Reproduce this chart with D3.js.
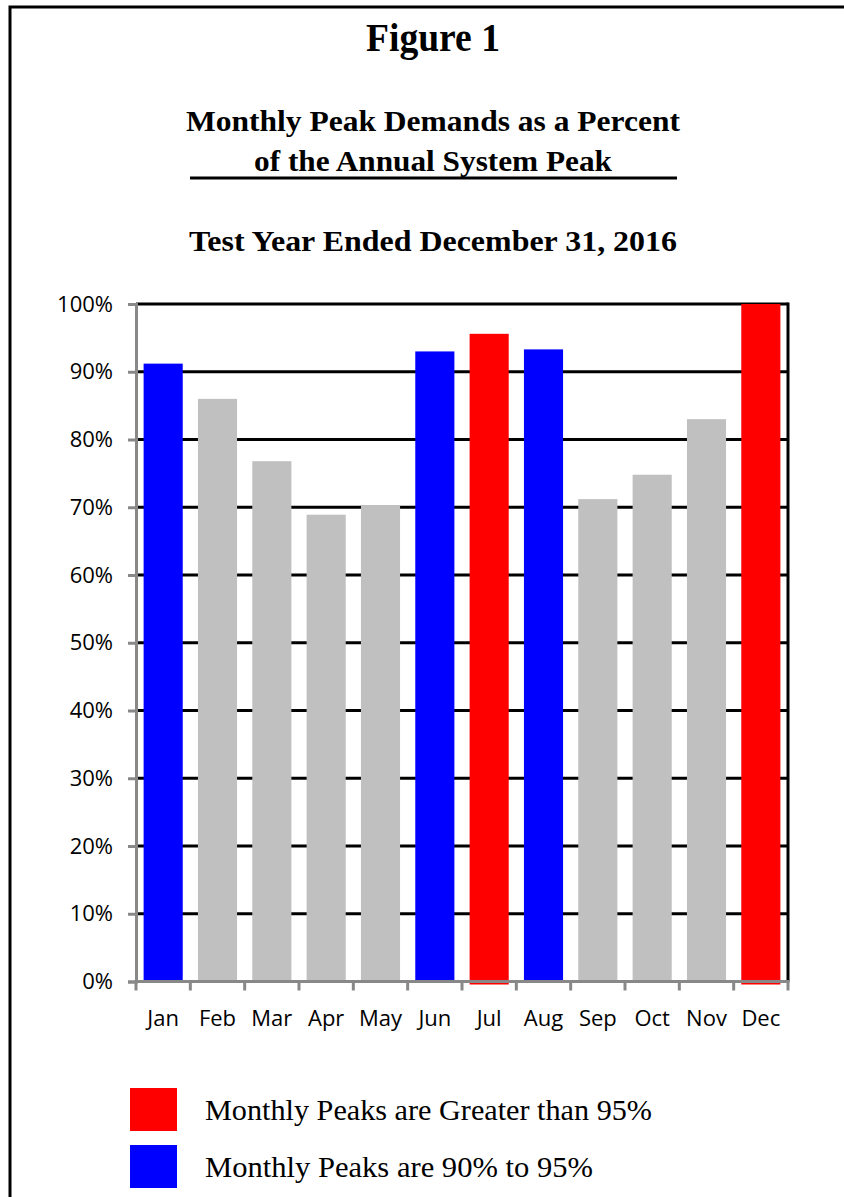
<!DOCTYPE html>
<html>
<head>
<meta charset="utf-8">
<script src="https://cdn.jsdelivr.net/npm/d3@7"></script>
<style>
  html, body { margin: 0; padding: 0; background: #fff; }
  svg { display: block; }
</style>
</head>
<body>
<svg id="chart" width="844" height="1197"></svg>
<script>
// ---- data ----
const months = ["Jan","Feb","Mar","Apr","May","Jun","Jul","Aug","Sep","Oct","Nov","Dec"];
const peakPercent = [91.2, 86.0, 76.8, 68.9, 70.3, 93.0, 95.6, 93.3, 71.2, 74.8, 83.0, 100.0];
const barGroup = ["mid","low","low","low","low","mid","high","mid","low","low","low","high"];
const yTicks = [0,10,20,30,40,50,60,70,80,90,100];
const titleLines = ["Figure 1", "Monthly Peak Demands as a Percent", "of the Annual System Peak", "Test Year Ended December 31, 2016"];
const legendItems = [
  {key: "high", label: "Monthly Peaks are Greater than 95%"},
  {key: "mid",  label: "Monthly Peaks are 90% to 95%"}
];
const groupColors = {high: "#ff0000", mid: "#0000ff", low: "#c0c0c0"};

const svg = d3.select("#chart");
const serif = "'Liberation Serif', 'Times New Roman', serif";
const sans = "'Open Sans', 'Liberation Sans', sans-serif";

// outer frame
svg.append("path")
  .attr("d", "M10,1197 L10,7 L844,7")
  .attr("fill", "none").attr("stroke", "#000").attr("stroke-width", 3);

// titles
const titleSpecs = [
  {y: 51, size: 40, len: 134},
  {y: 131, size: 30, len: 494},
  {y: 171, size: 30, len: 358},
  {y: 251, size: 30, len: 488}
];
titleLines.forEach((t, i) => {
  svg.append("text")
    .attr("x", 433).attr("y", titleSpecs[i].y)
    .attr("text-anchor", "middle")
    .attr("font-family", serif).attr("font-weight", "bold")
    .attr("font-size", titleSpecs[i].size)
    .attr("textLength", titleSpecs[i].len)
    .attr("lengthAdjust", "spacingAndGlyphs")
    .text(t);
});
svg.append("line")
  .attr("x1", 190).attr("x2", 677).attr("y1", 178).attr("y2", 178)
  .attr("stroke", "#000").attr("stroke-width", 3);

// plot area
const plot = {left: 136, right: 788, top: 304, bottom: 981.5};
const x = d3.scaleBand().domain(months).range([plot.left, plot.right])
  .paddingInner(0.28).paddingOuter(0.14);
const y = d3.scaleLinear().domain([0, 100]).range([plot.bottom, plot.top]);

// gridlines
svg.append("g").selectAll("line")
  .data(yTicks.filter(d => d > 0))
  .join("line")
  .attr("x1", plot.left).attr("x2", plot.right)
  .attr("y1", d => y(d)).attr("y2", d => y(d))
  .attr("stroke", "#000").attr("stroke-width", 3);

// right border of plot
svg.append("line")
  .attr("x1", plot.right).attr("x2", plot.right)
  .attr("y1", plot.top - 1.5).attr("y2", plot.bottom)
  .attr("stroke", "#000").attr("stroke-width", 3);

// bars
svg.append("g").selectAll("rect")
  .data(months)
  .join("rect")
  .attr("x", d => x(d))
  .attr("width", x.bandwidth())
  .attr("y", (d, i) => y(peakPercent[i]))
  .attr("height", (d, i) => y(0) - y(peakPercent[i]) + (barGroup[i] === "high" ? 3 : 0))
  .attr("fill", (d, i) => groupColors[barGroup[i]]);

// y axis
const yAxis = d3.axisLeft(y).tickValues(yTicks).tickFormat(d => d + "%").tickSize(8).tickPadding(15);
const gy = svg.append("g").attr("transform", `translate(${plot.left},0)`).call(yAxis);
gy.select(".domain").attr("stroke", "#888").attr("stroke-width", 3);
gy.selectAll(".tick line").attr("stroke", "#888").attr("stroke-width", 3);
gy.selectAll(".tick text").attr("font-family", sans).attr("font-size", 22).attr("fill", "#000");

// x axis: ticks at band boundaries
const gx = svg.append("g").attr("transform", `translate(0,${plot.bottom})`);
gx.append("line")
  .attr("x1", plot.left - 1.5).attr("x2", plot.right + 1.5)
  .attr("stroke", "#888").attr("stroke-width", 3);
const boundaries = d3.range(months.length + 1).map(i => plot.left + i * (plot.right - plot.left) / months.length);
gx.selectAll("line.tk").data(boundaries).join("line")
  .attr("class", "tk")
  .attr("x1", d => d).attr("x2", d => d)
  .attr("y1", 0).attr("y2", 9)
  .attr("stroke", "#888").attr("stroke-width", 3);
gx.selectAll("text").data(months).join("text")
  .attr("x", d => x(d) + x.bandwidth() / 2)
  .attr("y", 44)
  .attr("text-anchor", "middle")
  .attr("font-family", sans).attr("font-size", 22)
  .text(d => d);

// legend
const legendLens = [447, 388];
const lg = svg.append("g");
legendItems.forEach((item, i) => {
  const top = 1088 + i * 57;
  lg.append("rect")
    .attr("x", 130).attr("y", top).attr("width", 47).attr("height", 43)
    .attr("fill", groupColors[item.key]);
  lg.append("text")
    .attr("x", 205).attr("y", top + 32)
    .attr("font-family", serif).attr("font-size", 30)
    .attr("textLength", legendLens[i])
    .attr("lengthAdjust", "spacingAndGlyphs")
    .text(item.label);
});
</script>
</body>
</html>
